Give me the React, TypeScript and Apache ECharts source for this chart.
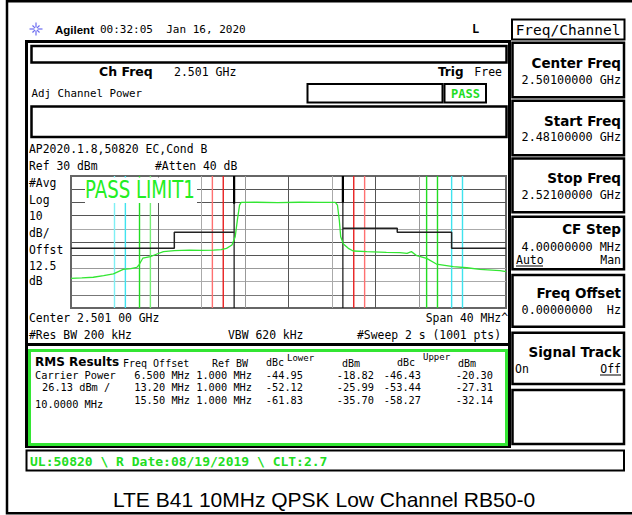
import React, { useEffect, useRef } from 'react';
import * as echarts from 'echarts';

// ---------- data ----------
const CENTER_MHZ = 2501;
const SPAN_HALF = 20;
const REF_LEVEL = 30;
const BOTTOM_LEVEL = -70;

// measured trace (absolute MHz, dBm)
const traceFreq = [
  2481.0, 2482.0, 2483.05, 2484.0, 2484.9, 2485.8, 2486.5, 2487.05, 2487.25, 2487.6,
  2488.3, 2488.9, 2489.5, 2490.5, 2491.9, 2493.0, 2494.1, 2494.8, 2495.3, 2495.8,
  2496.1, 2496.3, 2496.5, 2496.65, 2498.0, 2500.0, 2502.0, 2504.0, 2505.3, 2505.5,
  2505.67, 2505.8, 2506.05, 2506.5, 2506.95, 2508.2, 2510.0, 2511.25, 2511.9, 2512.3,
  2512.8, 2513.7, 2514.6, 2516.15, 2517.4, 2518.6, 2520.45, 2521.0,
];
const traceLevel = [
  -47.5, -47.2, -46.7, -45.5, -44.2, -40.7, -40.1, -39.2, -37.4, -32.3,
  -31.1, -29.1, -27.3, -26.6, -26.1, -26.4, -26.1, -25.8, -24.8, -22.3,
  -16.0, -3.3, 8.0, 10.0, 10.1, 9.9, 10.1, 10.0, 10.0, 8.0,
  -3.3, -16.0, -21.5, -24.8, -26.8, -27.3, -27.8, -28.1, -28.6, -27.3,
  -30.4, -32.4, -36.7, -38.7, -39.5, -40.7, -41.7, -42.5,
];

// limit line (absolute MHz, dBm)
const limitLeftFreq = [2481, 2490.5, 2490.5, 2496];
const limitLeftLevel = [-24.8, -24.8, -12.7, -12.7];
const limitRightFreq = [2506, 2511, 2511, 2516, 2516, 2521];
const limitRightLevel = [-9.6, -9.6, -12.7, -12.7, -24.8, -24.8];
const limitEdgeFreq = [2496, 2506];
const limitEdgeTop = [30, 30];
const limitEdgeBottom = [9, 10];

// integration band markers (offset from centre, MHz)
const markerOffset = [-16, -15, -13.7, -12.7, -7, -6, -5, 5, 6, 7, 12.7, 13.7, 15, 16];
const markerKind = ['cyanL', 'cyan', 'green', 'greenL', 'redL', 'red', 'chan', 'chan', 'red', 'redL', 'green', 'green', 'cyan', 'cyan'];

// results table
const rmsOffsets = ['6.500 MHz', '13.20 MHz', '15.50 MHz'];
const rmsRefBw = ['1.000 MHz', '1.000 MHz', '1.000 MHz'];
const lowerDbc = [-44.95, -52.12, -61.83];
const lowerDbm = [-18.82, -25.99, -35.7];
const upperDbc = [-46.43, -53.44, -58.27];
const upperDbm = [-20.3, -27.31, -32.14];

const softkeys = [
  { title: 'Center Freq', value: '2.50100000 GHz' },
  { title: 'Start Freq', value: '2.48100000 GHz' },
  { title: 'Stop Freq', value: '2.52100000 GHz' },
  { title: 'CF Step', value: '4.00000000 MHz' },
  { title: 'Freq Offset', value: '0.00000000  Hz' },
  { title: 'Signal Track', value: '' },
  { title: '', value: '' },
];

// ---------- styling ----------
const MONO = '"DejaVu Sans Mono", monospace';
const SANS = '"DejaVu Sans", sans-serif';
const ARIAL = '"Liberation Sans", Arial, sans-serif';
const GREEN = '#22dd22';

const kindColor: Record<string, string> = {
  cyan: '#3fe3ee',
  cyanL: '#7ef0f5',
  green: '#22dd22',
  greenL: '#77ee77',
  red: '#e82020',
  redL: '#ff7070',
  chan: '#111111',
};

const xGridColors = ['#666', '#888', '#555', '#aaa', '#999', '#555', '#aaa', '#555', '#999', '#888', '#666'];
const yGridColors = ['#666', '#777', '#aaa', '#999', '#555', '#555', '#aaa', '#555', '#555', '#555', '#666'];

function txt(text: string, x: number, y: number, o: any = {}) {
  return {
    type: 'text',
    x,
    y,
    z: o.z ?? 10,
    scaleX: o.scaleX ?? 1,
    silent: true,
    style: {
      text,
      fill: o.fill ?? '#000',
      fontSize: o.size ?? 11,
      fontFamily: o.family ?? MONO,
      fontWeight: o.weight ?? 'normal',
      align: o.align ?? 'left',
      verticalAlign: 'middle',
    },
  };
}
function rect(x: number, y: number, w: number, h: number, lw = 2, stroke = '#000', fill = 'none', z = 5) {
  return { type: 'rect', z, silent: true, shape: { x, y, width: w, height: h }, style: { fill, stroke, lineWidth: lw } };
}
function seg(x1: number, y1: number, x2: number, y2: number, lw = 1, stroke = '#000') {
  return { type: 'line', z: 10, silent: true, shape: { x1, y1, x2, y2 }, style: { stroke, lineWidth: lw } };
}

function buildGraphic() {
  const g: any[] = [];
  // outer frame
  g.push(rect(7, 1.2, 640, 512, 2.5));
  // logo starburst
  for (let k = 0; k < 8; k++) {
    const a = (k * Math.PI) / 4;
    const r = k % 2 === 0 ? 6.5 : 5;
    g.push(seg(36 + Math.cos(a) * 1.5, 29 + Math.sin(a) * 1.5, 36 + Math.cos(a) * r, 29 + Math.sin(a) * r, 1.2, '#6b6bf0'));
  }
  g.push(txt('Agilent', 55, 29.5, { family: ARIAL, weight: 'bold', size: 11.5 }));
  g.push(txt('00:32:05  Jan 16, 2020', 100, 29.5, { size: 11 }));
  g.push(txt('L', 472, 28.5, { size: 12, weight: 'bold' }));

  // main frame
  g.push(rect(26.5, 41.5, 483, 405, 3));
  g.push(seg(26.5, 344.5, 509.5, 344.5, 3));
  g.push(rect(31.5, 46, 475, 16.5, 2.5));
  g.push(txt('Ch Freq', 99, 71.5, { family: SANS, weight: 'bold', size: 12.5 }));
  g.push(txt('2.501 GHz', 174, 71.5, { size: 11.5 }));
  g.push(txt('Trig', 438, 71.5, { family: SANS, weight: 'bold', size: 12 }));
  g.push(txt('Free', 502, 71.5, { size: 11.5, align: 'right' }));
  g.push(txt('Adj Channel Power', 31.5, 93, { size: 10.8 }));
  g.push(rect(307.5, 84, 135, 18.5, 2));
  g.push(rect(444.5, 84, 41.5, 18.5, 2));
  g.push(txt('PASS', 465.5, 93.5, { size: 12, weight: 'bold', fill: GREEN, align: 'center' }));
  g.push(rect(31.5, 106.5, 475, 30.5, 2.5));
  g.push(txt('AP2020.1.8,50820 EC,Cond B', 29, 148.5, { size: 11.4 }));
  g.push(txt('Ref 30 dBm', 29, 165.5, { size: 11.4 }));
  g.push(txt('#Atten 40 dB', 155, 165.5, { size: 11.4 }));
  const side = ['#Avg', 'Log', '10', 'dB/', 'Offst', '12.5', 'dB'];
  const sideY = [182.5, 199.5, 216, 232.5, 250, 266, 280.5];
  side.forEach((s, i) => g.push(txt(s, 29, sideY[i], { size: 11.4 })));
  g.push(txt('Center 2.501 00 GHz', 29, 317.5, { size: 11.4 }));
  g.push(txt('Span 40 MHz^', 508, 317.5, { size: 11.4, align: 'right' }));
  g.push(txt('#Res BW 200 kHz', 29, 335, { size: 11.4 }));
  g.push(txt('VBW 620 kHz', 228, 335, { size: 11.4 }));
  g.push(txt('#Sweep 2 s (1001 pts)', 501, 335, { size: 11.4, align: 'right' }));

  // PASS LIMIT1 overlay
  g.push(rect(85, 177.5, 112, 25.5, 0, 'none', '#fff', 100));
  g.push(txt('PASS LIMIT1', 85, 190, { family: SANS, size: 24, scaleX: 0.755, fill: '#22ee22', z: 101 }));

  // RMS results box
  g.push(rect(29.5, 350.5, 477, 94, 3, '#33e633'));
  g.push(txt('RMS Results', 35, 362, { family: SANS, weight: 'bold', size: 12 }));
  g.push(txt('Freq Offset', 123, 363, { size: 10 }));
  g.push(txt('Ref BW', 212, 363, { size: 10 }));
  g.push(txt('dBc', 266, 362.5, { size: 10 }));
  g.push(txt('Lower', 287, 357.5, { size: 9 }));
  g.push(txt('dBm', 342, 363.5, { size: 10 }));
  g.push(txt('dBc', 397, 362.5, { size: 10 }));
  g.push(txt('Upper', 423, 357, { size: 9 }));
  g.push(txt('dBm', 458, 363.5, { size: 10 }));
  g.push(txt('Carrier Power', 35, 374.5, { size: 10.3 }));
  g.push(txt('26.13 dBm /', 42, 387, { size: 10.3 }));
  g.push(txt('10.0000 MHz', 35, 403.5, { size: 10.3 }));
  const rowY = [374.5, 387, 399.5];
  rowY.forEach((y, i) => {
    g.push(txt(rmsOffsets[i], 190, y, { size: 10.3, align: 'right' }));
    g.push(txt(rmsRefBw[i], 252, y, { size: 10.3, align: 'right' }));
    g.push(txt(lowerDbc[i].toFixed(2), 303, y, { size: 10.3, align: 'right' }));
    g.push(txt(lowerDbm[i].toFixed(2), 374, y, { size: 10.3, align: 'right' }));
    g.push(txt(upperDbc[i].toFixed(2), 421, y, { size: 10.3, align: 'right' }));
    g.push(txt(upperDbm[i].toFixed(2), 493, y, { size: 10.3, align: 'right' }));
  });

  // status bar
  g.push(rect(26.5, 450.5, 597.5, 20, 2));
  g.push(txt('UL:50820 \\ R Date:08/19/2019 \\ CLT:2.7', 30, 461, { size: 13, weight: 'bold', fill: GREEN }));

  // softkeys
  g.push(rect(512, 19.5, 112.5, 20, 2));
  g.push(txt('Freq/Channel', 568, 29.5, { size: 14.5, align: 'center' }));
  const boxTop = [42.7, 100.7, 158.5, 216.7, 275, 332.7, 390];
  const boxBot = [97.3, 155.3, 212.3, 269.3, 326.7, 384, 444];
  const titleY = [63.3, 120.7, 178.3, 229.3, 293.3, 352, 0];
  const valueY = [80, 137, 195, 246.5, 309.5, 0, 0];
  softkeys.forEach((s, i) => {
    g.push(rect(512.5, boxTop[i], 111.5, boxBot[i] - boxTop[i], 2.5));
    if (s.title) g.push(txt(s.title, 621, titleY[i], { family: SANS, weight: 'bold', size: 13.5, align: 'right' }));
    if (s.value) g.push(txt(s.value, 621, valueY[i], { size: 11.8, align: 'right' }));
  });
  // CF Step Auto / Man
  g.push(txt('Auto', 516, 259.5, { size: 11.5 }));
  g.push(seg(516, 266, 543, 266, 1));
  g.push(txt('Man', 621, 259.5, { size: 11.5, align: 'right' }));
  // Signal track On / Off
  g.push(txt('On', 515, 368.5, { size: 11.5 }));
  g.push(txt('Off', 621, 368.5, { size: 11.5, align: 'right' }));
  g.push(seg(600, 375, 621, 375, 1));

  // title
  g.push(txt('LTE B41 10MHz QPSK Low Channel RB50-0', 324, 499, { family: ARIAL, size: 21, align: 'center' }));
  return g;
}

function buildOption() {
  const markerSeries = markerOffset.map((off, i) => ({
    type: 'line',
    silent: true,
    symbol: 'none',
    z: 2,
    lineStyle: { color: kindColor[markerKind[i]], width: markerKind[i] === 'chan' ? 1.2 : 1.4 },
    data: [[off, BOTTOM_LEVEL], [off, REF_LEVEL]],
  }));
  const edgeSeries = limitEdgeFreq.map((f, i) => ({
    type: 'line',
    silent: true,
    symbol: 'none',
    z: 3,
    lineStyle: { color: '#000', width: 2.2 },
    data: [[f - CENTER_MHZ, limitEdgeTop[i]], [f - CENTER_MHZ, limitEdgeBottom[i]]],
  }));
  return {
    animation: false,
    backgroundColor: '#fff',
    grid: { left: 71, top: 176, width: 435, height: 132, show: true, borderColor: '#666', borderWidth: 2, backgroundColor: '#fff' },
    xAxis: {
      type: 'value', min: -SPAN_HALF, max: SPAN_HALF, interval: 4,
      axisLine: { show: false }, axisTick: { show: false }, axisLabel: { show: false },
      splitLine: { show: true, lineStyle: { color: xGridColors, width: 1 } },
    },
    yAxis: {
      type: 'value', min: BOTTOM_LEVEL, max: REF_LEVEL, interval: 10,
      axisLine: { show: false }, axisTick: { show: false }, axisLabel: { show: false },
      splitLine: { show: true, lineStyle: { color: yGridColors, width: 1 } },
    },
    series: [
      ...markerSeries,
      ...edgeSeries,
      {
        type: 'line', silent: true, symbol: 'none', z: 3,
        lineStyle: { color: '#222', width: 1.5 },
        data: limitLeftFreq.map((f, i) => [f - CENTER_MHZ, limitLeftLevel[i]]),
      },
      {
        type: 'line', silent: true, symbol: 'none', z: 3,
        lineStyle: { color: '#222', width: 1.5 },
        data: limitRightFreq.map((f, i) => [f - CENTER_MHZ, limitRightLevel[i]]),
      },
      {
        type: 'line', silent: true, symbol: 'none', z: 4,
        lineStyle: { color: '#33e633', width: 1.3 },
        data: traceFreq.map((f, i) => [f - CENTER_MHZ, traceLevel[i]]),
      },
    ],
    graphic: { elements: buildGraphic() },
  };
}

export default function App() {
  const ref = useRef<HTMLDivElement>(null);
  useEffect(() => {
    if (!ref.current) return;
    const chart = echarts.init(ref.current, undefined, { renderer: 'svg' });
    chart.setOption(buildOption() as any);
    return () => chart.dispose();
  }, []);
  return (
    <div
      ref={ref}
      style={{ position: 'fixed', left: 0, top: 0, width: 632, height: 515, background: '#fff' }}
    />
  );
}
